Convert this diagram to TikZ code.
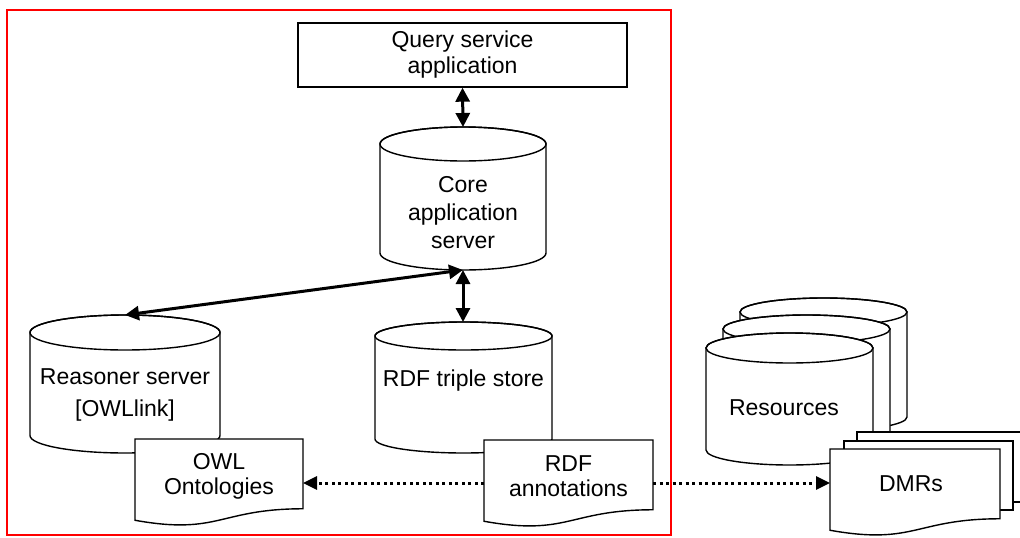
\documentclass[tikz,border=0pt]{standalone}
\usepackage{fontspec}
\setmainfont{Liberation Sans}
\usetikzlibrary{arrows.meta}
\newcommand\mycyl[5]{%
  \draw[shp] ({#1},{#3+#5}) -- ({#1},{#4-#5})
    arc[start angle=180,end angle=0,x radius={(#2-#1)/2},y radius=#5]
    -- ({#2},{#3+#5})
    arc[start angle=0,end angle=-180,x radius={(#2-#1)/2},y radius=#5] -- cycle;
  \draw[shp,fill=none] ({(#1+#2)/2},{#3+#5}) ellipse [x radius={(#2-#1)/2},y radius=#5];
}
\newcommand\mydoc[4]{%
  \draw[shp] ({#1},{#3}) -- ({#2},{#3}) -- ({#2},{#3+0.802*#4})
    .. controls ({(#1+#2)/2},{#3+0.802*#4}) and ({(#1+#2)/2},{#3+1.108*#4}) ..
    ({#1},{#3+0.934*#4}) -- cycle;
}
\begin{document}
\begin{tikzpicture}[x=1pt,y=-1pt,
  shp/.style={draw=black,line width=1.4pt,fill=white},
  lbl/.style={font=\fontsize{23}{27}\selectfont,align=center,inner sep=0pt},
  anc/.style={inner sep=0pt,outer sep=0pt,draw=none},
  link/.style={line width=3pt,{Triangle[length=14pt,width=14pt]}-{Triangle[length=14pt,width=14pt]}},
  dotlink/.style={line width=3pt,dash pattern=on 3pt off 3.5pt,-{Triangle[length=14pt,width=13pt]}}]
\useasboundingbox (0,0) rectangle (1020,538);
\clip (0,0) rectangle (1020,538);
\fill[white] (0,0) rectangle (1020,538);

% red frame
\draw[red,line width=2.6pt] (7,10) rectangle (671,535);

% query box
\node[shp,lbl,minimum width=329pt,minimum height=64pt,font=\fontsize{23}{26}\selectfont] (query) at (462.5,55) {Query service\\application};

% cylinders
\mycyl{380}{546}{127}{270}{17}
\node[anc,minimum width=166pt,minimum height=143pt] (core) at (463,198.5) {};
\node[lbl,font=\fontsize{23}{28}\selectfont] (coretxt) at (463,213) {Core\\application\\server};

\mycyl{30}{220}{315}{453}{17.5}
\node[anc,minimum width=190pt,minimum height=138pt] (reasoner) at (125,384) {};
\node[lbl,font=\fontsize{23}{32}\selectfont] (reasonertxt) at (125,395) {Reasoner server\\{[OWLlink]}};

\mycyl{375}{552}{322}{453}{14}
\node[anc,minimum width=177pt,minimum height=131pt] (rdfstore) at (463.5,387.5) {};
\node[lbl] (rdfstoretxt) at (463.5,381) {RDF triple store};

% resources (stacked)
\mycyl{740}{907}{298}{431}{14}
\mycyl{723}{890}{315}{448}{14}
\mycyl{706}{873}{333}{465}{15}
\node[anc,minimum width=167pt,minimum height=132pt] (resources) at (789.5,399) {};
\node[lbl] (resourcestxt) at (784,408) {Resources};

% documents
\mydoc{135}{303}{439}{87}
\node[anc,minimum width=168pt] (owl) at (219,483) {};
\node[lbl,font=\fontsize{23}{25}\selectfont] (owltxt) at (219,476) {OWL\\Ontologies};

\mydoc{484}{653}{440}{87}
\node[anc,minimum width=169pt] (rdfann) at (568.5,483) {};
\node[lbl,font=\fontsize{23}{25}\selectfont] (rdfanntxt) at (568.5,476) {RDF\\annotations};

% DMRs (stacked)
\draw[shp] (857,432) rectangle (1030,502);
\draw[shp] (844,441) rectangle (1013,510);
\mydoc{830}{1000}{449}{87}
\node[anc,minimum width=170pt] (dmr) at (915,483) {};
\node[lbl] (dmrtxt) at (911,484) {DMRs};

% connectors
\draw[link] (query.south) -- (core.north);
\draw[link] (core.south) -- (reasoner.north);
\draw[link] (core.south) -- (core.south |- rdfstore.north);
\draw[dotlink] (rdfann.west) -- (owl.east);
\draw[dotlink] (rdfann.east) -- (dmr.west);
\end{tikzpicture}
\end{document}
